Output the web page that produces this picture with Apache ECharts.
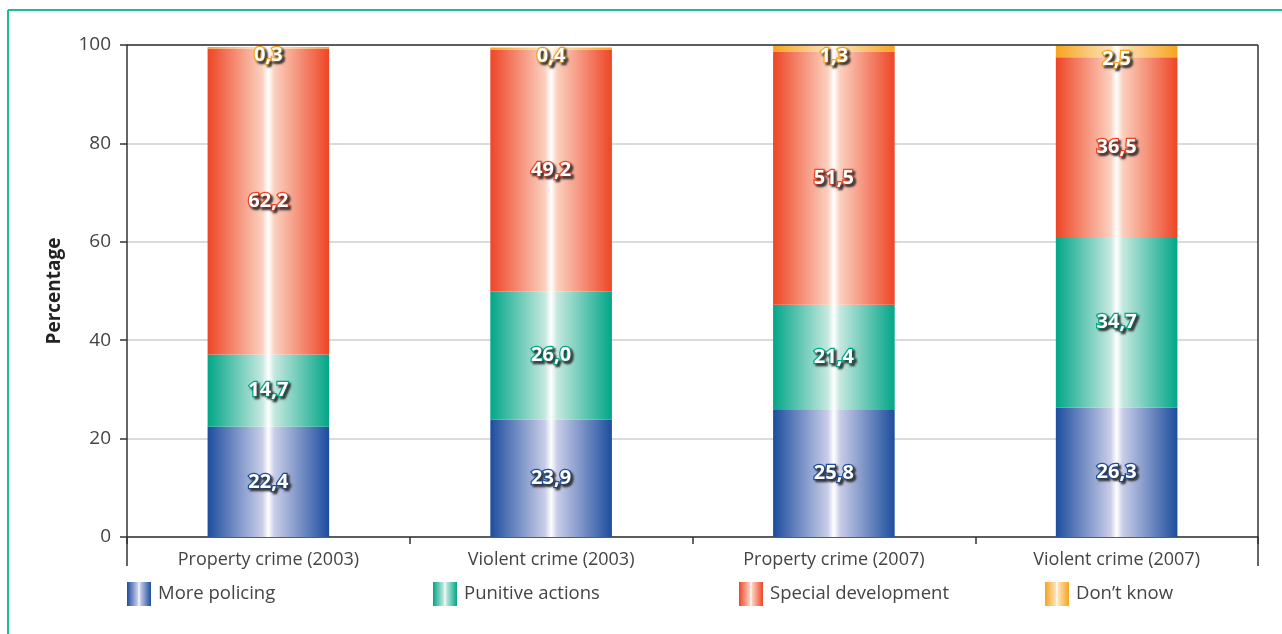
<!DOCTYPE html>
<html>
<head>
<meta charset="utf-8">
<script src="https://cdn.jsdelivr.net/npm/echarts@6/dist/echarts.min.js"></script>
<style>
html,body{margin:0;padding:0;background:#fff;}
#main{width:1282px;height:634px;}
</style>
</head>
<body>
<div id="main"></div>
<script>
const categories = ['Property crime (2003)', 'Violent crime (2003)', 'Property crime (2007)', 'Violent crime (2007)'];
const morePolicing = [22.4, 23.9, 25.8, 26.3];
const punitiveActions = [14.7, 26.0, 21.4, 34.7];
const specialDevelopment = [62.2, 49.2, 51.5, 36.5];
const dontKnow = [0.3, 0.4, 1.3, 2.5];
const seriesNames = ['More policing', 'Punitive actions', 'Special development', 'Don\u2019t know'];
const yTicks = [0, 20, 40, 60, 80, 100];

const baseColors = ['#1d4d9e', '#02a688', '#ee4526', '#f6a41f'];
const tints = ['#c9cde8', '#c5e8df', '#fbd0bf', '#fde2b8'];
const FONT = '"Open Sans", "Noto Sans", sans-serif';

const G = {left: 127, top: 45, right: 24, bottom: 97};
const W = 1282, H = 634;
const gx0 = G.left, gx1 = W - G.right, gy0 = G.top, gy1 = H - G.bottom;

function grad(i) {
  const c = baseColors[i], t = tints[i];
  return new echarts.graphic.LinearGradient(0, 0, 1, 0, [
    {offset: 0, color: c},
    {offset: 0.45, color: t},
    {offset: 0.5, color: '#ffffff'},
    {offset: 0.55, color: t},
    {offset: 1, color: c}
  ]);
}
function fmt(v) { return v.toFixed(1).replace('.', ','); }

const datas = [morePolicing, punitiveActions, specialDevelopment, dontKnow];
const series = datas.map((d, i) => ({
  name: seriesNames[i],
  type: 'bar',
  stack: 'total',
  barWidth: '43%',
  data: d,
  itemStyle: {color: grad(i)},
  label: {
    show: true,
    position: 'inside',
    offset: i === 3 ? [0, 8] : [0, 0],
    formatter: p => fmt(p.value),
    color: '#ffffff',
    fontFamily: FONT,
    fontWeight: 'bold',
    fontSize: 20,
    textBorderColor: baseColors[i],
    textBorderWidth: 2.5,
    textShadowColor: 'rgba(50,50,50,0.85)',
    textShadowBlur: 2,
    textShadowOffsetX: 2,
    textShadowOffsetY: 2
  },
  emphasis: {disabled: true}
}));

const legendLefts = [127, 433, 739, 1045];
const legends = seriesNames.map((n, i) => ({
  data: [n],
  left: legendLefts[i],
  top: 582,
  padding: 0,
  itemWidth: 24,
  itemHeight: 24,
  itemGap: 8,
  icon: 'rect',
  textStyle: {fontFamily: FONT, fontSize: 18.5, color: '#444', padding: [0, 0, 0, 2]},
  selectedMode: false
}));

const lineStyle = {stroke: '#333', lineWidth: 1.5};
const chart = echarts.init(document.getElementById('main'), null, {renderer: 'canvas'});
chart.setOption({
  animation: false,
  backgroundColor: '#ffffff',
  grid: {left: G.left, top: G.top, right: G.right, bottom: G.bottom, containLabel: false},
  legend: legends,
  xAxis: {
    type: 'category',
    data: categories,
    axisLine: {show: true, lineStyle: {color: '#333', width: 1.5}},
    axisTick: {show: true, length: 7, lineStyle: {color: '#333', width: 1.5}},
    axisLabel: {fontFamily: FONT, fontSize: 18, color: '#444', margin: 14}
  },
  yAxis: {
    type: 'value',
    min: 0, max: 100, interval: 20,
    name: 'Percentage',
    nameLocation: 'middle',
    nameGap: 63,
    nameTextStyle: {fontFamily: FONT, fontSize: 19, fontWeight: 'bold', color: '#222'},
    axisLine: {show: true, lineStyle: {color: '#333', width: 1.5}},
    axisTick: {show: true, length: 7, lineStyle: {color: '#333', width: 1.5}},
    axisLabel: {fontFamily: FONT, fontSize: 19, color: '#444', margin: 16,
      formatter: v => yTicks.indexOf(v) >= 0 ? String(v) : ''},
    splitLine: {show: true, lineStyle: {color: '#cfcfcf', width: 1.5}}
  },
  series: series,
  graphic: [
    {type: 'line', shape: {x1: 8, y1: 10, x2: W, y2: 10}, style: {stroke: '#1fbb98', lineWidth: 2}, silent: true},
    {type: 'line', shape: {x1: 8, y1: 10, x2: 8, y2: H}, style: {stroke: '#1fbb98', lineWidth: 2}, silent: true},
    {type: 'line', shape: {x1: gx0, y1: gy0, x2: gx1, y2: gy0}, style: lineStyle, silent: true, z: 100},
    {type: 'line', shape: {x1: gx1, y1: gy0, x2: gx1, y2: gy1 + 29}, style: lineStyle, silent: true, z: 100},
    {type: 'line', shape: {x1: gx0, y1: gy1, x2: gx0, y2: gy1 + 29}, style: lineStyle, silent: true, z: 100}
  ]
});
</script>
</body>
</html>
